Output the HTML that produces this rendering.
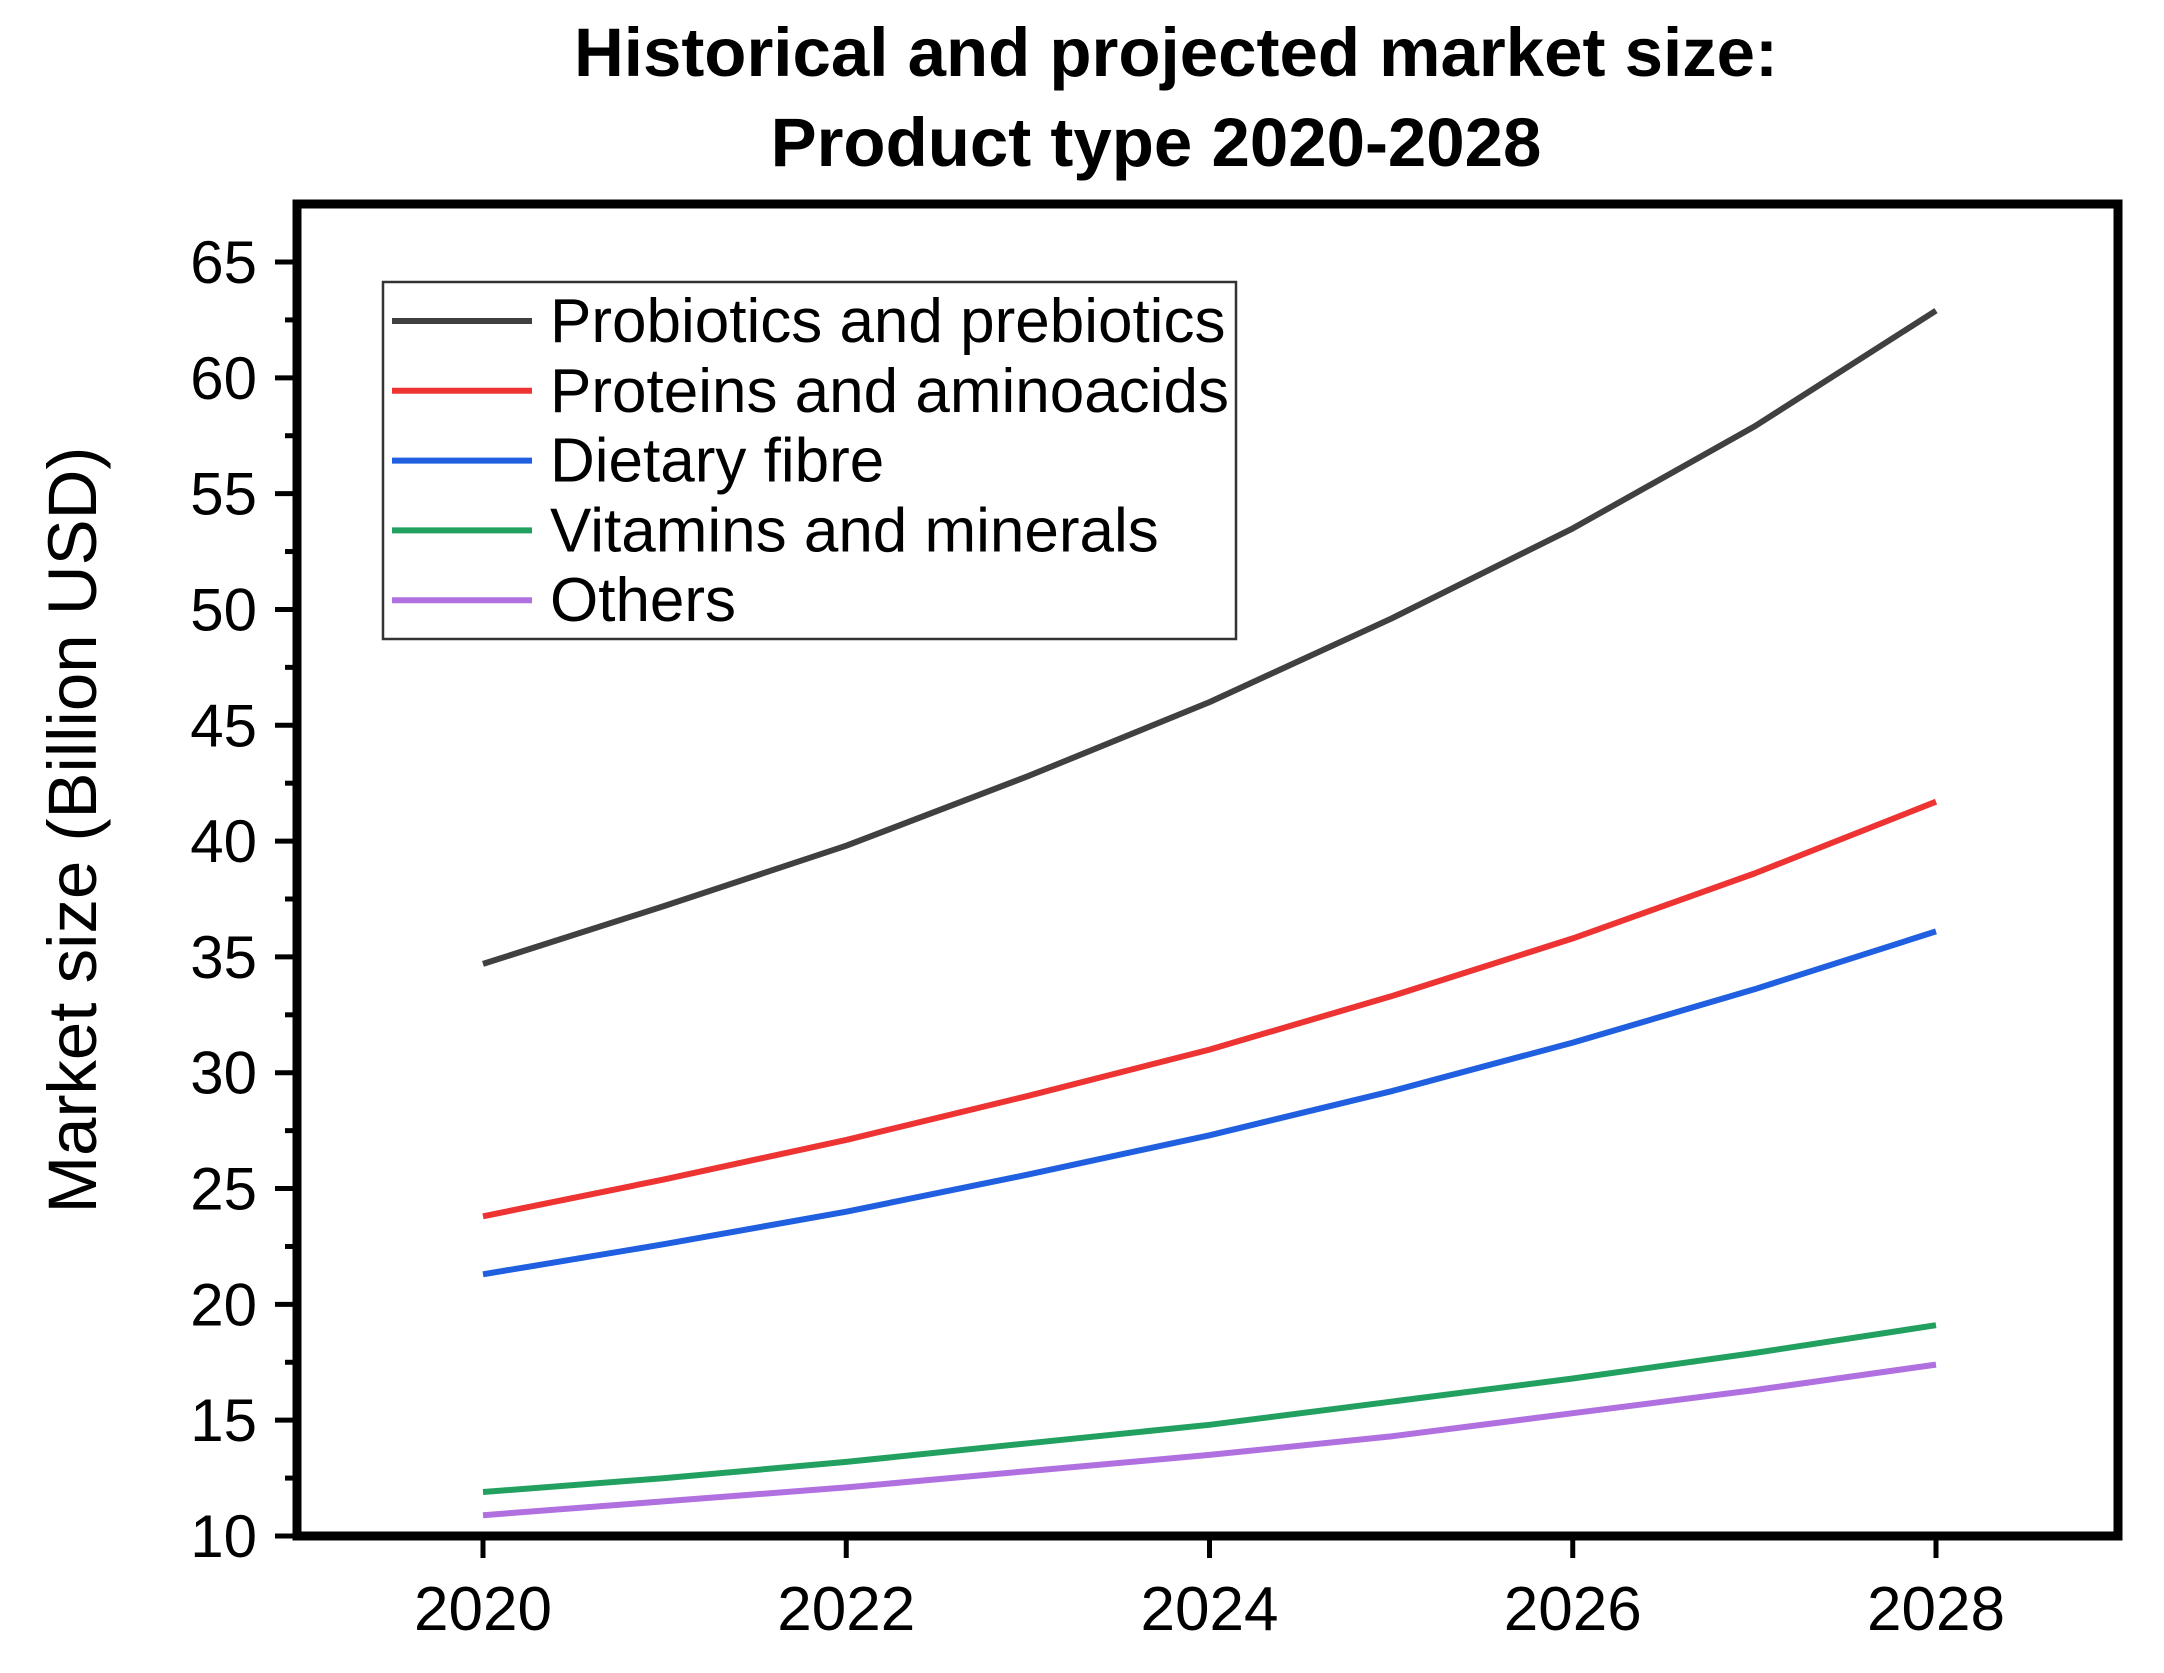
<!DOCTYPE html>
<html><head><meta charset="utf-8"><style>
html,body{margin:0;padding:0;background:#fff;}
svg{display:block;font-family:"Liberation Sans",Arial,sans-serif;}
</style></head><body>
<svg id="chart" width="2164" height="1673" viewBox="0 0 2164 1673">
<text x="1176" y="76" text-anchor="middle" font-size="69" font-weight="bold">Historical and projected market size:</text>
<text x="1156" y="166" text-anchor="middle" font-size="69" font-weight="bold">Product type 2020-2028</text>
<text transform="translate(96,830) rotate(-90)" text-anchor="middle" font-size="69">Market size (Billion USD)</text>
<g id="axes"></g>
<g id="series"></g>
<g id="legend"></g>
</svg>
<script>
const years = [2020,2021,2022,2023,2024,2025,2026,2027,2028];
const probiotics = [34.7,37.2,39.8,42.8,46.0,49.6,53.5,57.9,62.9];
const proteins = [23.8,25.4,27.1,29.0,31.0,33.3,35.8,38.6,41.7];
const fibre = [21.3,22.6,24.0,25.6,27.3,29.2,31.3,33.6,36.1];
const vitamins = [11.9,12.5,13.2,14.0,14.8,15.8,16.8,17.9,19.1];
const others = [10.9,11.5,12.1,12.8,13.5,14.3,15.3,16.3,17.4];
const yTicks = [10,15,20,25,30,35,40,45,50,55,60,65];
const xTicks = [2020,2022,2024,2026,2028];
const seriesNames = ["Probiotics and prebiotics","Proteins and aminoacids","Dietary fibre","Vitamins and minerals","Others"];

const NS="http://www.w3.org/2000/svg";
const L=297,R=2118,T=204,B=1536;
const x=v=>483+(v-2020)*(1936-483)/8;
const y=v=>1536-(v-10)*(1536-262)/55;
function mk(tag,attrs,parent){const e=document.createElementNS(NS,tag);for(const k in attrs)e.setAttribute(k,attrs[k]);parent.appendChild(e);return e;}
const axes=document.getElementById('axes');
const frame=mk('rect',{x:L,y:T,width:R-L,height:B-T,fill:'none',stroke:'#000','stroke-width':9},axes);


for(let v=10;v<=66;v+=2.5){
  const major=(v%5===0);
  const t=mk('line',{x1:L,x2:L-(major?22:12),y1:y(v),y2:y(v),stroke:'#000','stroke-width':5},axes);
  
  
}
yTicks.forEach(v=>{
  const t=mk('text',{x:257,y:y(v)+21,'text-anchor':'end','font-size':60},axes);
  t.textContent=v;
  
  
});
xTicks.forEach(v=>{
  const t=mk('line',{x1:x(v),x2:x(v),y1:B,y2:B+22,stroke:'#000','stroke-width':5},axes);
  
  
  const l=mk('text',{x:x(v),y:1630,'text-anchor':'middle','font-size':62},axes);
  l.textContent=v;
  
  
});
const colors=['#404040','#ee3333','#1f5fe0','#22a060','#b070e0'];
const data=[probiotics,proteins,fibre,vitamins,others];
const sg=document.getElementById('series');
data.forEach((arr,i)=>{
  const d=arr.map((v,j)=>(j?'L':'M')+x(years[j]).toFixed(1)+','+y(v).toFixed(1)).join(' ');
  const p=mk('path',{d:d,fill:'none',stroke:colors[i],'stroke-width':6,'stroke-linejoin':'round'},sg);
  
  
});
const lg=document.getElementById('legend');
const box=mk('rect',{x:383,y:282,width:853,height:357,fill:'#fff',stroke:'#333','stroke-width':2.5},lg);


seriesNames.forEach((n,i)=>{
  const yy=321+i*69.8;
  const ln=mk('line',{x1:392,x2:532,y1:yy,y2:yy,stroke:colors[i],'stroke-width':6},lg);
  
  
  const t=mk('text',{x:550,y:yy+21,'font-size':62},lg);
  t.textContent=n;
  
  
});
</script>
</body></html>
